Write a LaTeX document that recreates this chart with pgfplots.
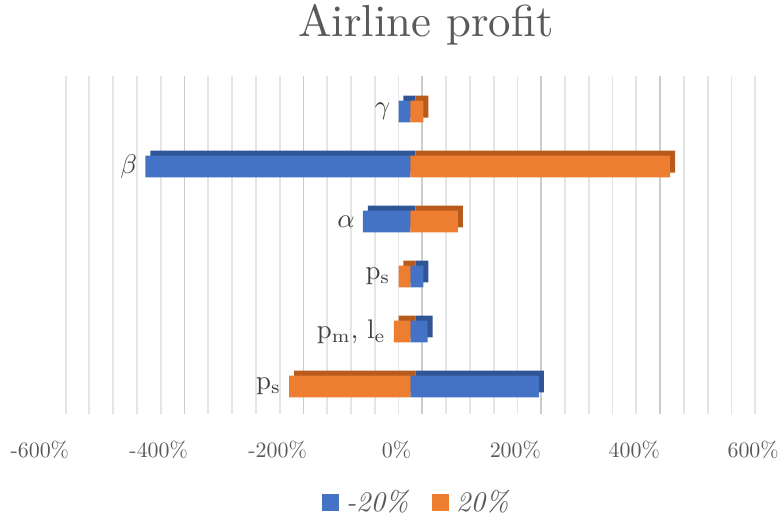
\documentclass[border=0pt]{standalone}
\usepackage{graphicx}
\usepackage{pgfplots}
\pgfplotsset{compat=1.18}
\definecolor{sblue}{HTML}{4472C4}
\definecolor{sorange}{HTML}{ED7D31}
\definecolor{dblue}{HTML}{2F5597}
\definecolor{dorange}{HTML}{B85A1B}
\definecolor{txt}{HTML}{595959}
\definecolor{lab}{HTML}{404040}
\pgfplotsset{sqlegend/.style={legend image code/.code={\fill[##1] (0pt,-8.5pt) rectangle (17pt,8.5pt);}}}
\newcommand{\tl}[1]{\scalebox{2.2}{#1}}
\begin{document}
\begin{tikzpicture}
\begin{axis}[
 at={(0pt,0pt)}, anchor=south west,
 scale only axis, width=740pt, height=339.5pt,
 xmin=-620, xmax=620, ymin=-0.5, ymax=5.65,
 axis line style={draw=none},
 ytick=\empty,
 xtick={-600,-400,-200,0,200,400,600},
 xticklabels={\tl{-600\%},\tl{-400\%},\tl{-200\%},\tl{0\%},\tl{200\%},\tl{400\%},\tl{600\%}},
 xticklabel style={anchor=center, yshift=-36pt, xshift=-14pt, font=\fontsize{10}{12}\selectfont, text=txt},
 major tick length=0pt, minor tick length=0pt,
 minor xtick={-580,-540,...,580},
 xminorgrids=true,
 minor grid style={gray!20, line width=1.8pt},
 extra x ticks={-380,-180,20,220,420},
 extra x tick labels={},
 extra x tick style={xmajorgrids=true, major grid style={gray!40, line width=1.8pt}},
 title={\scalebox{4.5}{Airline profit}},
 title style={at={(axis description cs:0.521,1.100)}, anchor=base, font=\fontsize{10}{12}\selectfont, text=txt},
 legend columns=2,
 legend style={at={(axis description cs:0.508,-0.2604)}, anchor=center, draw=none, fill=none, font=\fontsize{10}{12}\selectfont\itshape, text=txt,
   /tikz/every odd column/.append style={column sep=5pt},
   /tikz/every even column/.append style={column sep=22pt}},
 clip=false,
]
% depth (3D) faces
\addplot[xbar, bar width=22pt, bar shift=5pt, xshift=5pt, fill=dblue, draw=none, forget plot]
 coordinates {(216,0) (29,1) (22,2) (-80,3) (-446,4) (-20,5)};
\addplot[xbar, bar width=22pt, bar shift=5pt, xshift=5pt, fill=dorange, draw=none, forget plot]
 coordinates {(-204,0) (-28,1) (-20,2) (80,3) (437,4) (22,5)};
% front faces
\addplot[xbar, bar width=22pt, bar shift=0pt, fill=sblue, draw=none, sqlegend]
 coordinates {(216,0) (29,1) (22,2) (-80,3) (-446,4) (-20,5)};
\addlegendentry{\scalebox{2.85}{-20\%}}
\addplot[xbar, bar width=22pt, bar shift=0pt, fill=sorange, draw=none, sqlegend]
 coordinates {(-204,0) (-28,1) (-20,2) (80,3) (437,4) (22,5)};
\addlegendentry{\scalebox{2.85}{20\%}}
% category labels at the left end of each pair of bars
\addplot[draw=none, forget plot, nodes near coords={\scalebox{2.7}{\pgfplotspointmeta}}, point meta=explicit symbolic,
 nodes near coords style={anchor=east, inner xsep=8pt, font=\fontsize{10}{12}\selectfont, text=lab}]
 coordinates {(-204,0) [{$\mathrm{p}_{\mathrm{s}}$}] (-28,1) [{$\mathrm{p}_{\mathrm{m}}$,\ $\mathrm{l}_{\mathrm{e}}$}] (-20,2) [{$\mathrm{p}_{\mathrm{s}}$}] (-80,3) [{$\alpha$}] (-446,4) [{$\beta$}] (-20,5) [{$\gamma$}]};
\end{axis}
\path (-42pt,-95.4pt) rectangle (740pt,415.6pt);
\end{tikzpicture}
\end{document}
